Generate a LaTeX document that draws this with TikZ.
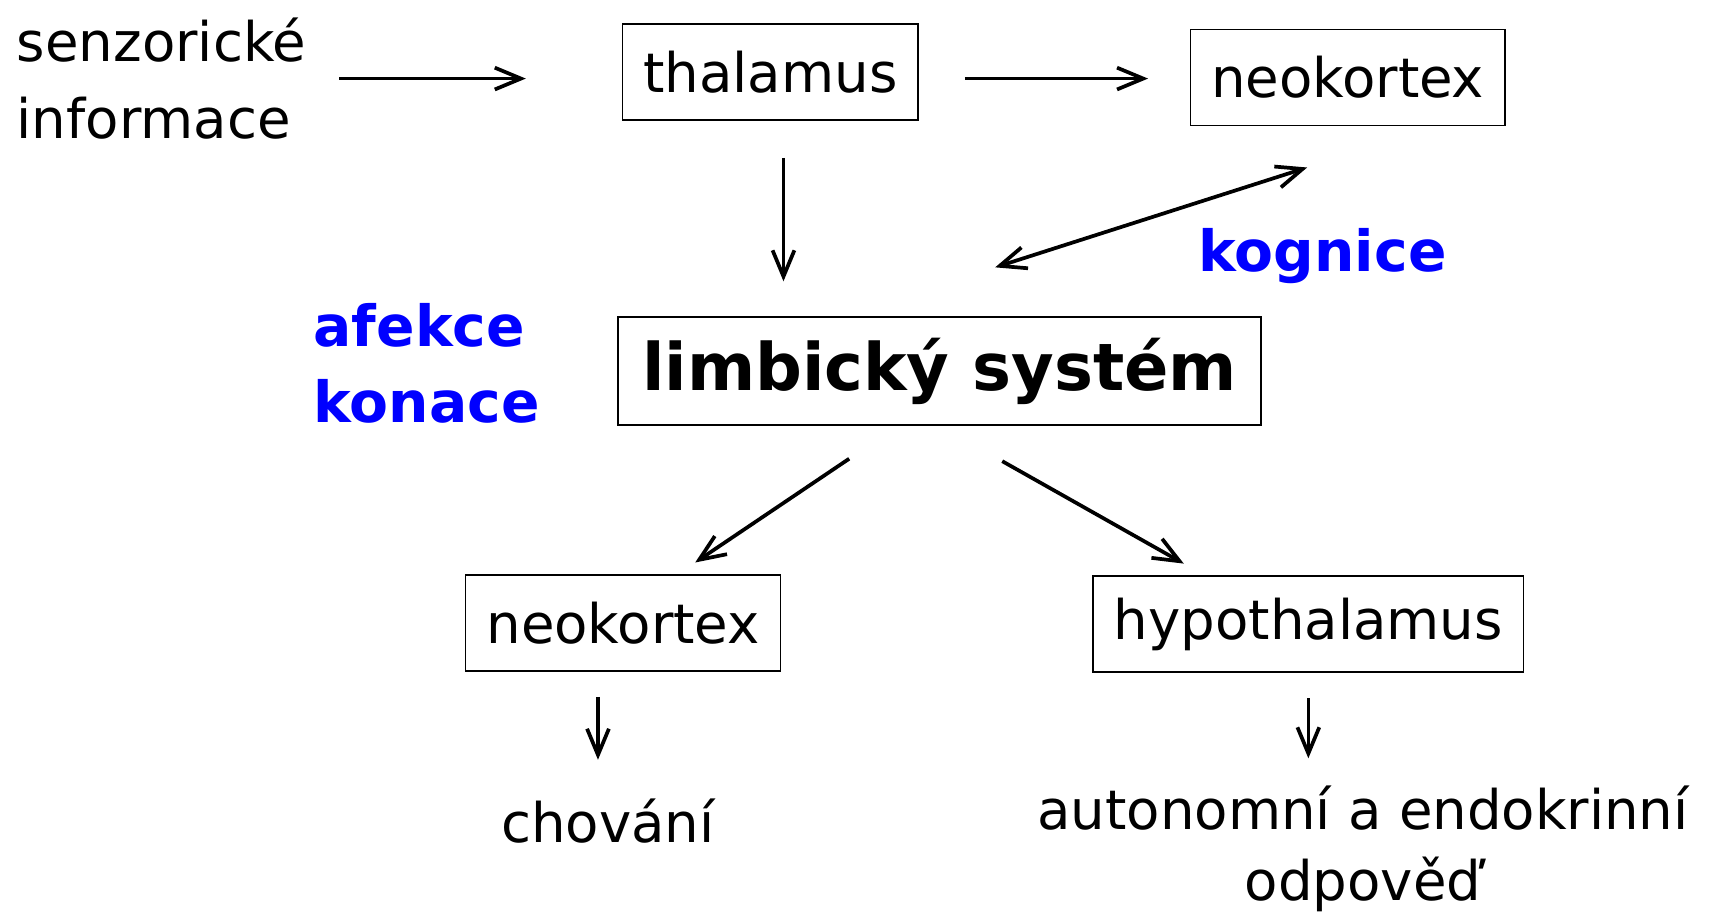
\documentclass[tikz,border=0pt]{standalone}
\usepackage{fontspec}
\setmainfont{DejaVu Sans}
\usetikzlibrary{arrows.meta}

\begin{document}
\begin{tikzpicture}[x=0.5pt,y=-0.5pt,
  box/.style={draw,line width=0.7pt,inner xsep=9.5pt,minimum height=44pt,font=\fontsize{25}{35}\selectfont},
  txt/.style={inner sep=0pt,font=\fontsize{25}{35}\selectfont},
  bluetxt/.style={inner sep=0pt,text=blue,font=\fontsize{26}{35}\selectfont\bfseries},
  arr/.style={line width=1.7pt,-{Straight Barb[length=12pt,width=10pt]}},
  dblarr/.style={line width=1.7pt,{Straight Barb[length=12pt,width=10pt]}-{Straight Barb[length=12pt,width=10pt]}}]
\useasboundingbox (0,0) rectangle (1568,840);
% top row
\node[txt,align=left,anchor=west] (senz) at (15,72) {senzorické\\informace};
\node[box] (thal) at (706,66) {thalamus};
\node[box] (neoT) at (1235,71) {neokortex};
% middle
\node[draw,line width=0.7pt,inner xsep=11pt,minimum height=49.5pt,font=\fontsize{30}{36}\selectfont\bfseries] (limb) at (861,340) {limbický systém};
\node[bluetxt,align=left,anchor=west] (afek) at (287,333) {afekce\\konace};
\node[bluetxt] (kogn) at (1212,235) {kognice};
% bottom
\node[box] (neoB) at (571,571) {neokortex};
\node[box] (hypo) at (1199,572) {hypothalamus};
\node[txt] (chov) at (557,752) {chování};
\node[txt,align=center,font=\fontsize{25}{32.5}\selectfont] (auto) at (1249,778) {autonomní a endokrinní\\odpověď};

\draw[arr,shorten <=15pt,shorten >=44pt] (senz.east) -- (senz.east -| thal.west);
\draw[arr,shorten <=21pt,shorten >=19pt] ([yshift=-3pt]thal.east) -- ([yshift=-3pt]thal.east -| neoT.west);
\draw[arr,shorten <=17pt,shorten >=16pt] ([xshift=6pt]thal.south) -- ([xshift=6pt]thal.south |- limb.north);
\draw[dblarr,shorten <=73.5pt,shorten >=62pt] ([xshift=-44.5pt]limb.north) -- ([xshift=40.5pt]neoT.south);
\draw[arr,shorten <=27pt,shorten >=9.7pt] ([xshift=-19pt]limb.south) -- ([xshift=25pt]neoB.north);
\draw[arr,shorten <=33pt,shorten >=11pt] (limb.south) -- ([xshift=-47.5pt]hypo.north);
\draw[arr,shorten <=11.5pt,shorten >=17.5pt] ([xshift=-11.5pt]neoB.south) -- ([xshift=-11.5pt]neoB.south |- chov.north);
\draw[arr,shorten <=11.5pt,shorten >=12.5pt] (hypo.south) -- (hypo.south |- auto.north);
\end{tikzpicture}
\end{document}
